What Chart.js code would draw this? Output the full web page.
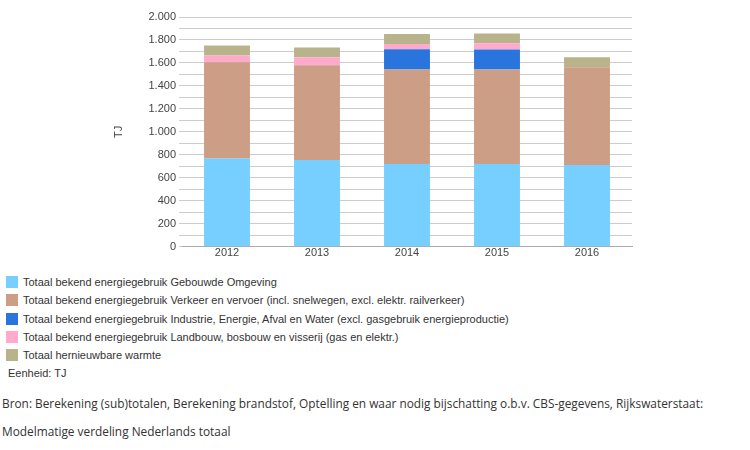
<!DOCTYPE html>
<html>
<head>
<meta charset="utf-8">
<script src="https://cdn.jsdelivr.net/npm/chart.js"></script>
<style>
  body { margin: 0; background: #fff; width: 750px; height: 450px; overflow: hidden; position: relative; }
  #chartBox { position: absolute; left: 0; top: 0; width: 750px; height: 260px; }
  #legend { position: absolute; left: 6px; top: 273px; font: 11px Arial, "Liberation Sans", sans-serif; color: #333; }
  .item { height: 18.3px; display: flex; align-items: center; }
  .sw { width: 12px; height: 12px; margin-right: 5px; }
  #unit { margin-left: 2px; height: 18px; line-height: 18px; }
  .note { position: absolute; left: 2px; font: 11.85px "Open Sans", sans-serif; color: #333; }
</style>
</head>
<body>
<div id="chartBox"><canvas id="energyChart"></canvas></div>
<div id="legend"></div>
<div class="note" style="top:395px">Bron: Berekening (sub)totalen, Berekening brandstof, Optelling en waar nodig bijschatting o.b.v. CBS-gegevens, Rijkswaterstaat:</div>
<div class="note" style="top:423px">Modelmatige verdeling Nederlands totaal</div>
<script>
// Years on the x axis
const years = ["2012", "2013", "2014", "2015", "2016"];

// Energy use per sector (TJ)
const gebouwdeOmgeving = [768, 756, 721, 721, 712];
const verkeerVervoer = [838, 824, 821, 821, 850];
const industrieEnergie = [0, 0, 178, 175, 0];
const landbouw = [58, 70, 44, 55, 0];
const hernieuwbareWarmte = [88, 84, 87, 85, 88];

const seriesNames = [
  "Totaal bekend energiegebruik Gebouwde Omgeving",
  "Totaal bekend energiegebruik Verkeer en vervoer (incl. snelwegen, excl. elektr. railverkeer)",
  "Totaal bekend energiegebruik Industrie, Energie, Afval en Water (excl. gasgebruik energieproductie)",
  "Totaal bekend energiegebruik Landbouw, bosbouw en visserij (gas en elektr.)",
  "Totaal hernieuwbare warmte",
];
const seriesColors = ["#77cfff", "#cc9e85", "#2a74dd", "#ffaacc", "#b8b38b"];

function nlNumber(v) {
  return String(v).replace(/\B(?=(\d{3})+(?!\d))/g, ".");
}

function createChart() {
  const ctx = document.getElementById("energyChart");
  const values = [gebouwdeOmgeving, verkeerVervoer, industrieEnergie, landbouw, hernieuwbareWarmte];

  const data = {
    labels: years,
    datasets: values.map((v, i) => ({
      label: seriesNames[i],
      data: v,
      backgroundColor: seriesColors[i],
      borderWidth: 0,
      barPercentage: 0.51,
      categoryPercentage: 1,
    })),
  };

  const config = {
    type: "bar",
    data: data,
    options: {
      responsive: true,
      maintainAspectRatio: false,
      animation: false,
      layout: { padding: { left: 112, right: 118, top: 17, bottom: 0 } },
      scales: {
        x: {
          stacked: true,
          grid: { display: false, drawTicks: false },
          border: { color: "#aaa" },
          ticks: { color: "#444", font: { size: 11, family: "Arial" }, padding: 0 },
        },
        y: {
          stacked: true,
          min: 0,
          max: 2000,
          afterFit: (scale) => { scale.width = 70; },
          title: { display: true, text: "TJ", color: "#444", font: { size: 11, family: "Arial" }, padding: 0 },
          grid: { color: "#cccccc", tickLength: 3 },
          border: { display: false },
          ticks: {
            stepSize: 100,
            maxTicksLimit: 21,
            autoSkip: false,
            color: "#444",
            font: { size: 11, family: "Arial" },
            padding: 3,
            callback: (v) => (v % 200 === 0 ? nlNumber(v) : ""),
          },
        },
      },
      plugins: {
        legend: { display: false },
        tooltip: { enabled: false },
      },
    },
  };

  new Chart(ctx.getContext("2d"), config);

  // HTML legend built from the same series
  const legend = document.getElementById("legend");
  seriesNames.forEach((name, i) => {
    const row = document.createElement("div");
    row.className = "item";
    row.innerHTML = '<span class="sw" style="background:' + seriesColors[i] + '"></span>' + name;
    legend.appendChild(row);
  });
  const unit = document.createElement("div");
  unit.id = "unit";
  unit.textContent = "Eenheid: TJ";
  legend.appendChild(unit);
}

createChart();
</script>
</body>
</html>
